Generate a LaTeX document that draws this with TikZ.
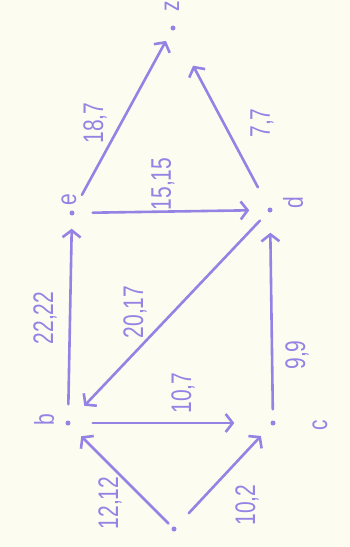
\documentclass[tikz,border=0pt]{standalone}
\usepackage{fontspec}
\setmainfont{Liberation Sans}
\usetikzlibrary{arrows.meta}
\definecolor{ink}{RGB}{150,130,228}
\definecolor{paper}{RGB}{253,252,240}
\begin{document}
\begin{tikzpicture}[x=1pt,y=-1pt,
  vtx/.style={circle,fill=ink,inner sep=0pt,minimum size=5pt},
  lbl/.style={text=ink,rotate=90,font=\fontsize{21}{23}\selectfont,inner sep=0pt},
  edge/.style={draw=ink,line width=2.6pt,line cap=round,
    -{Straight Barb[length=7pt,width=18pt,line width=2.6pt]}}]
\fill[paper] (0,0) rectangle (350,547);
\useasboundingbox (0,0) rectangle (350,547);
% vertices
\node[vtx] (s) at (174,529) {};
\node[vtx] (b) at (68,423) {};
\node[vtx] (c) at (273,423) {};
\node[vtx] (e) at (72,213) {};
\node[vtx] (d) at (270,210) {};
\node[vtx] (z) at (173,28) {};
% vertex names
\node[lbl] (nb) at (44,420) {\scalebox{1}[1.3]{b}};
\node[lbl] (nc) at (320,425) {\scalebox{1}[1.3]{c}};
\node[lbl] (nd) at (293,203) {\scalebox{1}[1.3]{d}};
\node[lbl] (ne) at (69,200) {\scalebox{1}[1.3]{e}};
\node[lbl] (nz) at (172,6) {\scalebox{1}[1.3]{z}};
% edges
\draw[edge,shorten <=5pt,shorten >=16pt] (s) -- (b);
\draw[edge,shorten <=19pt,shorten >=15pt] (s) -- (c);
\draw[edge,shorten <=22pt,shorten >=36pt] (b) -- (c);
\draw[edge,shorten <=11pt,shorten >=20pt] (c) -- (d);
\draw[edge,shorten <=12pt,shorten >=21pt] (d) -- (b);
\draw[edge,shorten <=16pt,shorten >=13pt] (b) -- (e);
\draw[edge,shorten <=18pt,shorten >=18pt] (e) -- (d);
\draw[edge,shorten <=18pt,shorten >=12pt] (e) -- (z);
\draw[edge,shorten <=23pt,shorten >=40pt] (d) -- (z);
% edge labels
\node[lbl] (l1) at (110,503) {\scalebox{1}[1.35]{12,12}};
\node[lbl] (l2) at (247,505) {\scalebox{1}[1.35]{10,2}};
\node[lbl] (l3) at (183,393) {\scalebox{1}[1.35]{10,7}};
\node[lbl] (l4) at (297,355) {\scalebox{1}[1.35]{9,9}};
\node[lbl] (l5) at (135,312) {\scalebox{1}[1.35]{20,17}};
\node[lbl] (l6) at (45,318) {\scalebox{1}[1.35]{22,22}};
\node[lbl] (l7) at (163,184) {\scalebox{1}[1.35]{15,15}};
\node[lbl] (l8) at (95,123) {\scalebox{1}[1.35]{18,7}};
\node[lbl] (l9) at (262,123) {\scalebox{1}[1.35]{7,7}};
\end{tikzpicture}
\end{document}
